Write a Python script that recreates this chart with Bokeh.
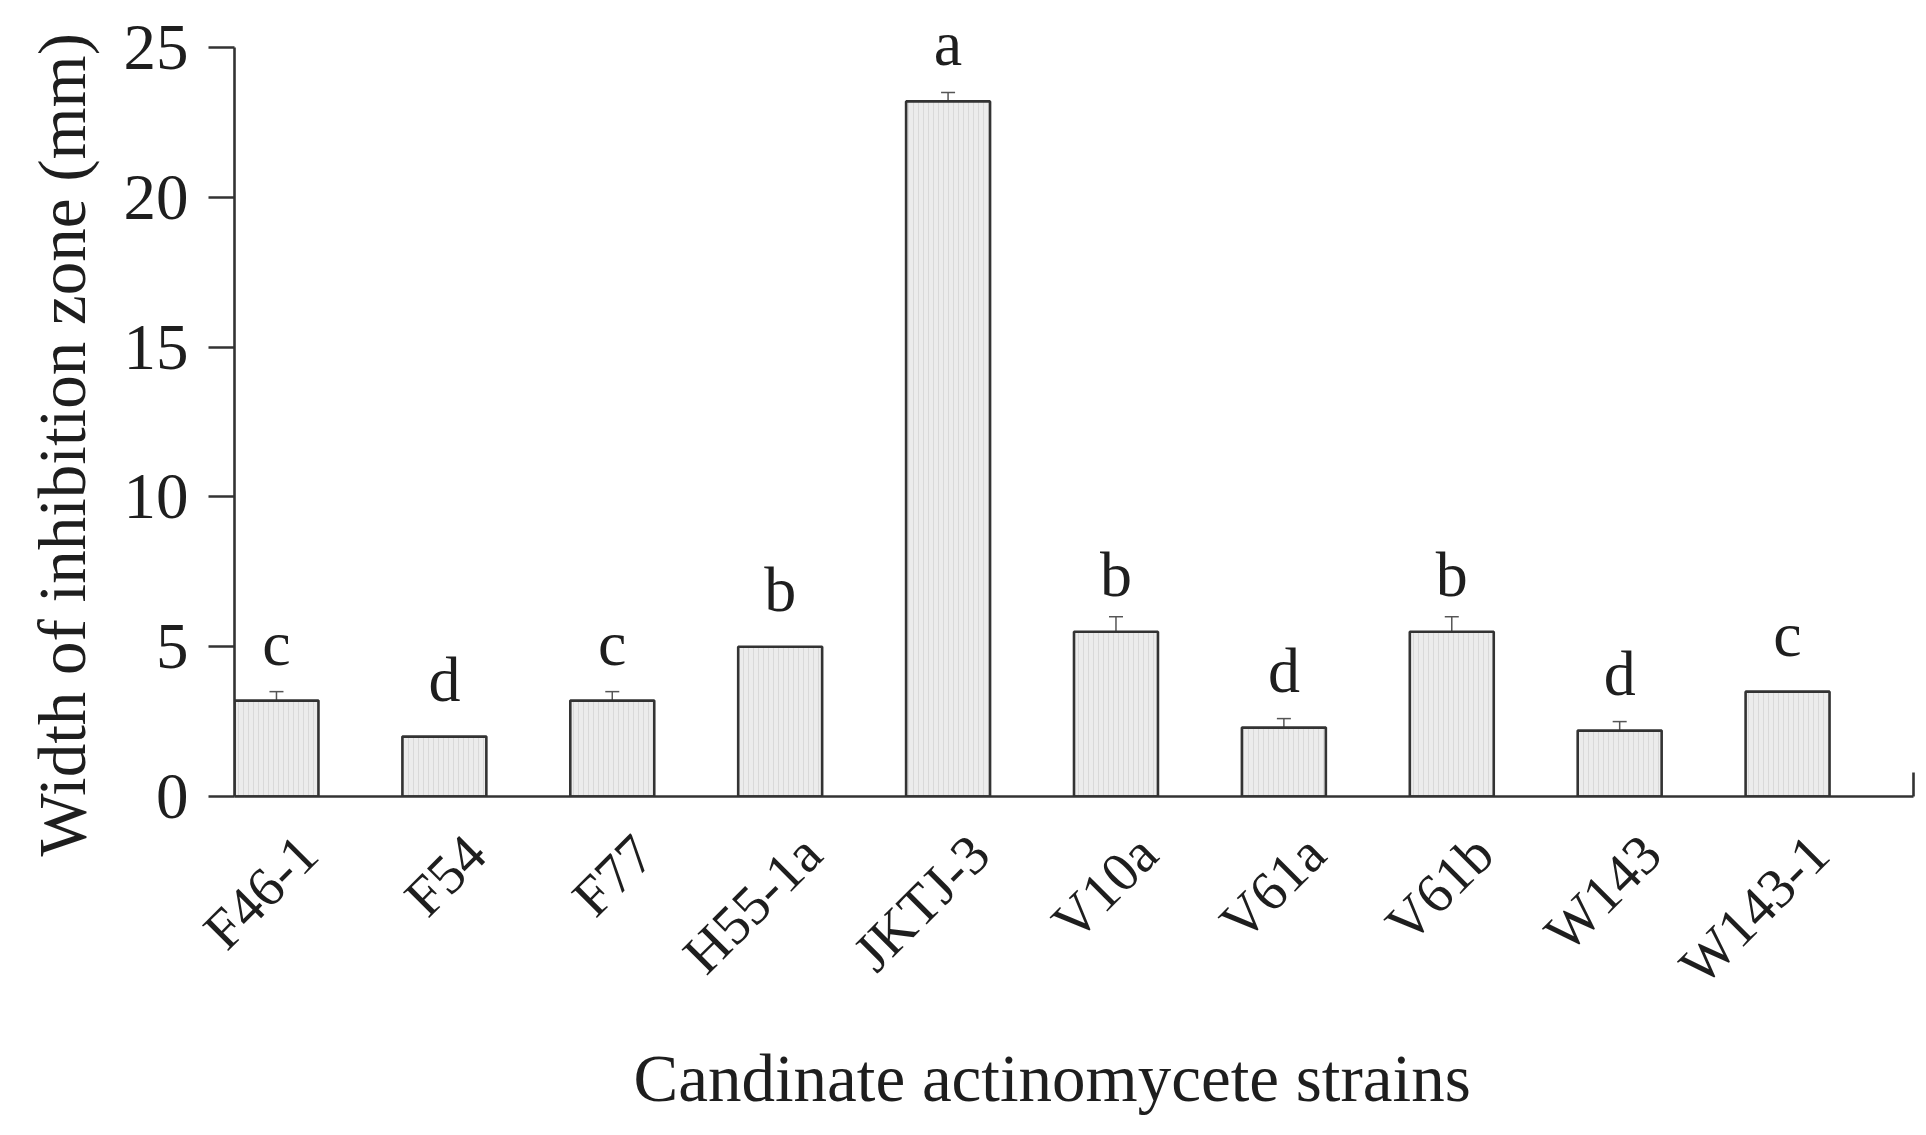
import math
from bokeh.plotting import figure
from bokeh.models import (ColumnDataSource, Range1d, FixedTicker, Whisker, TeeHead,
                          LabelSet, Title)
from bokeh.embed import file_html
from bokeh.resources import INLINE

# ---- data ----
strains = ["F46-1", "F54", "F77", "H55-1a", "JKTJ-3", "V10a", "V61a", "V61b", "W143", "W143-1"]
widths_mm = [3.2, 2.0, 3.2, 5.0, 23.2, 5.5, 2.3, 5.5, 2.2, 3.5]
errors_mm = [0.3, 0.0, 0.3, 0.0, 0.3, 0.5, 0.3, 0.5, 0.3, 0.0]
letters = ["c", "d", "c", "b", "a", "b", "d", "b", "d", "c"]
y_ticks = [0, 5, 10, 15, 20, 25]

FONT = "Liberation Serif"
AX = "#333333"
TXT = "#1e1e1e"
LABEL_SHIFT = 0.1875  # tick labels sit slightly right of bar centres

idx = list(range(len(strains)))
src = ColumnDataSource(dict(x=idx, top=widths_mm, letter=letters))

p = figure(width=1920, height=1134, output_backend="svg", toolbar_location=None,
           x_range=Range1d(-0.25, len(strains) - 0.25), y_range=Range1d(0, 26.5),
           min_border_left=233, min_border_right=7, min_border_top=2, min_border_bottom=338)
p.outline_line_color = None
p.grid.grid_line_color = None
p.background_fill_color = "white"
p.border_fill_color = "white"

p.vbar(x="x", top="top", bottom=0, width=0.5, source=src,
       fill_color="#ececec", line_color=AX, line_width=2.6,
       hatch_pattern="|", hatch_color="#d4d4d4", hatch_scale=5, hatch_weight=1, hatch_alpha=0.8)

err_src = ColumnDataSource(dict(
    x=[i for i, e in zip(idx, errors_mm) if e > 0],
    upper=[v + e for v, e in zip(widths_mm, errors_mm) if e > 0],
    lower=[v - e for v, e in zip(widths_mm, errors_mm) if e > 0],
))
head_kw = dict(size=14, line_color="#555555", line_width=1.5)
wh = Whisker(base="x", upper="upper", lower="lower", source=err_src,
             line_color="#555555", line_width=1.5,
             upper_head=TeeHead(**head_kw), lower_head=TeeHead(**head_kw))
p.add_layout(wh)

letters_ls = LabelSet(x="x", y="top", text="letter", source=src, text_align="center",
                      text_baseline="bottom", y_offset=22, text_font=FONT,
                      text_font_size="64px", text_color=TXT)
p.add_layout(letters_ls)

# x axis (categories)
tick_pos = [i + LABEL_SHIFT for i in idx]
p.xaxis.ticker = FixedTicker(ticks=tick_pos, minor_ticks=[len(strains) - 0.25])
p.xaxis.major_label_overrides = {t: s for t, s in zip(tick_pos, strains)}
p.xaxis.major_label_orientation = math.pi / 4
p.xaxis.major_label_text_font = FONT
p.xaxis.major_label_text_font_size = "56px"
p.xaxis.major_label_text_color = TXT
p.xaxis.major_label_standoff = 48
p.xaxis.major_tick_in = 0
p.xaxis.major_tick_out = 0
p.xaxis.minor_tick_in = 24
p.xaxis.minor_tick_out = 0
p.xaxis.minor_tick_line_color = AX
p.xaxis.minor_tick_line_width = 2.6
p.xaxis.axis_line_color = AX
p.xaxis.axis_line_width = 2.6

# y axis
p.yaxis.bounds = (0, 25)
p.yaxis.ticker = FixedTicker(ticks=y_ticks)
p.yaxis.minor_tick_line_color = None
p.yaxis.major_tick_in = 0
p.yaxis.major_tick_out = 26
p.yaxis.major_tick_line_color = AX
p.yaxis.major_tick_line_width = 2.6
p.yaxis.axis_line_color = AX
p.yaxis.axis_line_width = 2.6
p.yaxis.major_label_text_font = FONT
p.yaxis.major_label_text_font_size = "65px"
p.yaxis.major_label_text_color = TXT
p.yaxis.major_label_standoff = 20

# axis titles
ytitle = Title(text="Width of inhibition zone (mm)", align="left", offset=-60,
               text_font=FONT, text_font_size="67px", text_font_style="normal",
               text_color=TXT, standoff=44)
p.add_layout(ytitle, "left")

xtitle = Title(text="Candinate actinomycete strains", align="left", offset=399,
               text_font=FONT, text_font_size="67px", text_font_style="normal",
               text_color=TXT, standoff=34)
p.add_layout(xtitle, "below")

open("out.html", "w").write(file_html(p, INLINE))
